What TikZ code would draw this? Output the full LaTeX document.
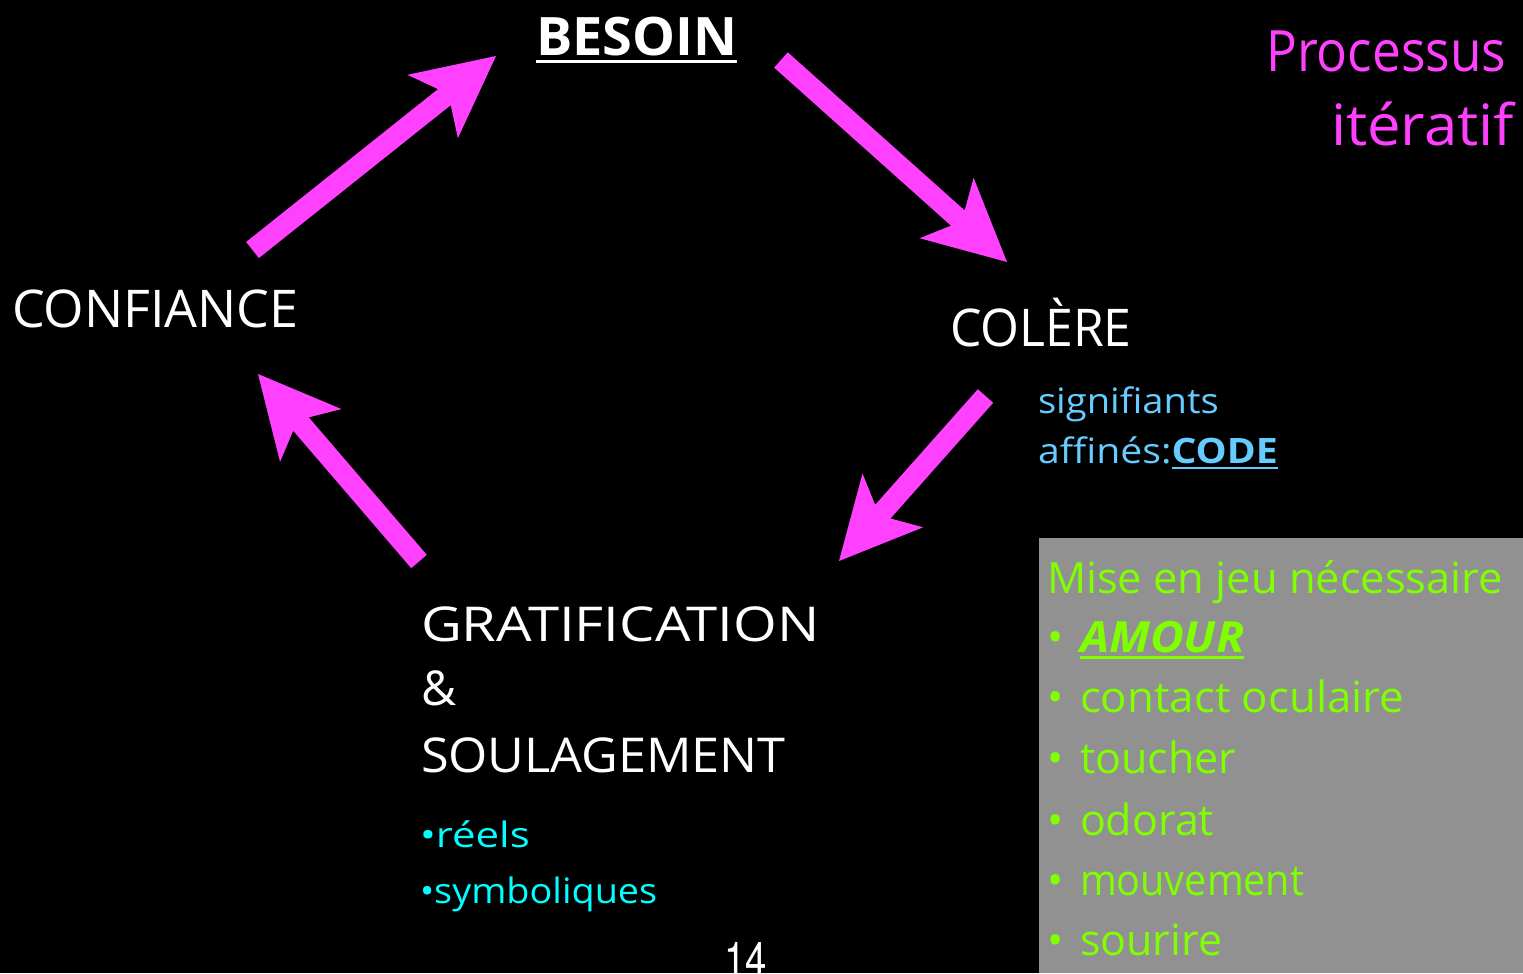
\documentclass[tikz,border=0pt]{standalone}
\usepackage{fontspec}
\usepackage{graphicx}
\setmainfont{Open Sans}
\newfontfamily\numfont{TeX Gyre Heros}
\usetikzlibrary{calc}
\definecolor{mag}{HTML}{FF40FF}
\definecolor{lblue}{HTML}{66CCFF}
\definecolor{cyanc}{HTML}{00FFFF}
\definecolor{lime}{HTML}{80FF00}
\definecolor{boxgray}{HTML}{919191}
\newcommand\myul[1]{\setbox0\hbox{#1}\rlap{\rule[-0.16em]{\wd0}{0.06em}}\box0}
\newcommand\sx[2]{\scalebox{#1}[1]{#2}}
\newcommand\fatarrow[2]{%
  \coordinate (fab) at ($(#2)!81bp!(#1)$);
  \coordinate (faj) at ($(#2)!66bp!(#1)$);
  \fill[mag] ($(#1)!10.25bp!90:(#2)$) -- ($(faj)!10.25bp!90:(#2)$) -- ($(fab)!40.5bp!90:(#2)$) -- (#2)
    -- ($(fab)!40.5bp!-90:(#2)$) -- ($(faj)!10.25bp!-90:(#2)$) -- ($(#1)!10.25bp!-90:(#2)$) -- cycle;}
\begin{document}
\begin{tikzpicture}[x=1bp,y=-1bp,
  txt/.style={inner sep=0pt, outer sep=0pt, anchor=base west},
  big/.style={txt, white, font=\fontsize{52bp}{52bp}\selectfont},
  mid/.style={txt, font=\fontsize{35bp}{35bp}\selectfont},
  lst/.style={txt, lime, font=\fontsize{43bp}{43bp}\selectfont}]
\fill[black] (0,0) rectangle (1523,973);
\useasboundingbox (0,0) rectangle (1523,973);
\node[fill=boxgray, inner sep=0pt, minimum width=484bp, minimum height=435bp, anchor=north west] (box) at (1039,538) {};

% main labels
\node[big, font=\fontsize{53bp}{53bp}\selectfont\bfseries] (besoin) at (536,55) {\sx{1.02}{\myul{BESOIN}}};
\node[big] (confiance) at (12,327) {CONFIANCE};
\node[big] (colere) at (950,346) {\sx{0.96}{COLÈRE}};
\node[big, font=\fontsize{48bp}{48bp}\selectfont] (grat) at (421,641) {\sx{1.17}{GRATIFICATION}};
\node[big, font=\fontsize{48bp}{48bp}\selectfont] (amp) at (421,705) {\&};
\node[big, font=\fontsize{48bp}{48bp}\selectfont] (soul) at (421,772) {\sx{1.05}{SOULAGEMENT}};

% title
\node[txt, mag, anchor=base east, font=\fontsize{57bp}{57bp}\selectfont] (proc) at (1506,71) {\sx{0.9}{Processus}};
\node[txt, mag, anchor=base east, font=\fontsize{57bp}{57bp}\selectfont] (iter) at (1514,145) {\sx{1.05}{itératif}};

% colere notes
\node[mid, lblue] (sign) at (1038,413) {\sx{1.09}{signifiants}};
\node[mid, lblue] (aff) at (1038,463) {\sx{1.12}{affinés:\textbf{\myul{CODE}}}};

% gratification notes
\node[mid, cyanc] (reels) at (420,847) {\sx{1.2}{•réels}};
\node[mid, cyanc] (symb) at (420,903) {\sx{1.08}{•symboliques}};

% page number
\node[txt, white, font=\numfont\fontsize{48bp}{48bp}\selectfont] (num) at (724,976) {\sx{0.8}{14}};

% list
\node[lst] (mise) at (1047,593) {\sx{1.01}{Mise en jeu nécessaire}};
\node[lst] (bl1) at (1047,652) {•};
\node[lst] (l1) at (1080,652) {\sx{1.08}{\textbf{\textit{\myul{AMOUR}}}}};
\node[lst] (bl2) at (1047,712) {•};
\node[lst] (l2) at (1080,712) {\sx{1.02}{contact oculaire}};
\node[lst] (bl3) at (1047,773) {•};
\node[lst] (l3) at (1080,773) {toucher};
\node[lst] (bl4) at (1047,835) {•};
\node[lst] (l4) at (1080,835) {odorat};
\node[lst] (bl5) at (1047,895) {•};
\node[lst] (l5) at (1080,895) {\sx{0.92}{mouvement}};
\node[lst] (bl6) at (1047,955) {•};
\node[lst] (l6) at (1080,955) {sourire};

% arrows
\coordinate (a1s) at (781,60);    \coordinate (a1e) at (1007,262);
\coordinate (a2s) at (252.5,250); \coordinate (a2e) at (496,56);
\coordinate (a3s) at (985.5,396); \coordinate (a3e) at (839,561);
\coordinate (a4s) at (419,561.5); \coordinate (a4e) at (258,374);
\fatarrow{a1s}{a1e}
\fatarrow{a2s}{a2e}
\fatarrow{a3s}{a3e}
\fatarrow{a4s}{a4e}
\end{tikzpicture}
\end{document}
